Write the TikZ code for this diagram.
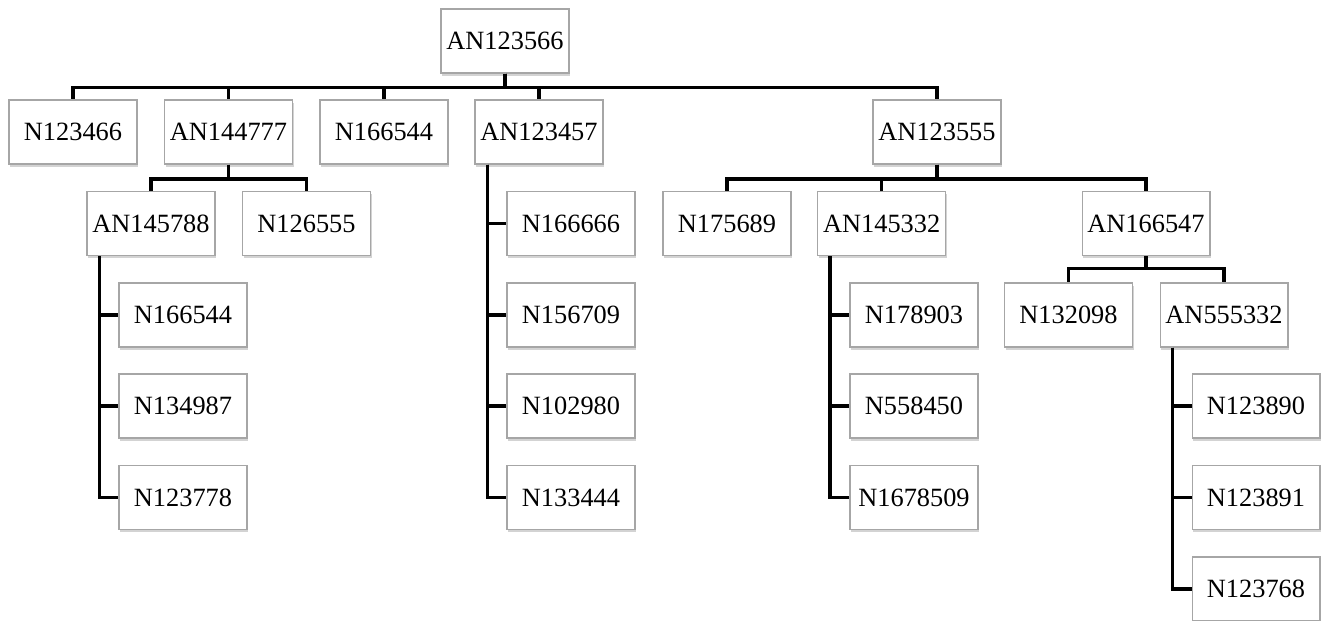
\documentclass[tikz,border=0pt]{standalone}
\usepackage{fontspec}
\setmainfont{Liberation Serif}
\usepackage{tikz}
\usetikzlibrary{shadows}

\begin{document}
\begin{tikzpicture}[x=0.02cm, y=-0.02cm, every node/.style={font=\fontsize{15}{17}\selectfont}, box/.style={draw=gray!70, line width=0.6pt, fill=white, minimum width=2.56cm, minimum height=1.28cm, inner sep=0pt, drop shadow={shadow xshift=0.6pt, shadow yshift=-1.6pt, opacity=0.35, fill=gray}}, conn/.style={line width=2pt}]
\useasboundingbox (0,0) rectangle (1321,620);
\coordinate (busa) at (0,87.3); \coordinate (busb) at (0,179); \coordinate (busc) at (0,268.3);
\node[box] (an123566) at (505,41) {AN123566};
\node[box] (n123466) at (73,132) {N123466};
\node[box] (an144777) at (228.5,132) {AN144777};
\node[box] (n166544) at (384,132) {N166544};
\node[box] (an123457) at (539,132) {AN123457};
\node[box] (an123555) at (937,132) {AN123555};
\node[box] (an145788) at (151,223.5) {AN145788};
\node[box] (n126555) at (306.5,223.5) {N126555};
\node[box] (n166666) at (571,223.5) {N166666};
\node[box] (n175689) at (727,223.5) {N175689};
\node[box] (an145332) at (881.7,223.5) {AN145332};
\node[box] (an166547) at (1146,223.5) {AN166547};
\node[box] (n166544b) at (183,315) {N166544};
\node[box] (n156709) at (571,315) {N156709};
\node[box] (n178903) at (914,315) {N178903};
\node[box] (n132098) at (1068.5,315) {N132098};
\node[box] (an555332) at (1224,315) {AN555332};
\node[box] (n134987) at (183,406) {N134987};
\node[box] (n102980) at (571,406) {N102980};
\node[box] (n558450) at (914,406) {N558450};
\node[box] (n123890) at (1256,406) {N123890};
\node[box] (n123778) at (183,497.5) {N123778};
\node[box] (n133444) at (571,497.5) {N133444};
\node[box] (n1678509) at (914,497.5) {N1678509};
\node[box] (n123891) at (1256,497.5) {N123891};
\node[box] (n123768) at (1256,589) {N123768};
% top level
\draw[conn] (an123566.south) |- (busa -| n123466) -- (n123466.north); \draw[conn] (an123566.south) |- (busa -| an144777) -- (an144777.north); \draw[conn] (an123566.south) |- (busa -| n166544) -- (n166544.north);
\draw[conn] (an123566.south) |- (busa -| an123457) -- (an123457.north); \draw[conn] (an123566.south) |- (busa -| an123555) -- (an123555.north);
% second level
\draw[conn] (an144777.south) |- (busb -| an145788) -- (an145788.north); \draw[conn] (an144777.south) |- (busb -| n126555) -- (n126555.north);
\draw[conn] (an123555.south) |- (busb -| n175689) -- (n175689.north); \draw[conn] (an123555.south) |- (busb -| an145332) -- (an145332.north); \draw[conn] (an123555.south) |- (busb -| an166547) -- (an166547.north);
\draw[conn] (an166547.south) |- (busc -| n132098) -- (n132098.north); \draw[conn] (an166547.south) |- (busc -| an555332) -- (an555332.north);
% side trunks
\draw[conn] ([xshift=0.26cm]an145788.south west) |- (n166544b.west); \draw[conn] ([xshift=0.26cm]an145788.south west) |- (n134987.west); \draw[conn] ([xshift=0.26cm]an145788.south west) |- (n123778.west);
\draw[conn] ([xshift=0.26cm]an123457.south west) |- (n166666.west); \draw[conn] ([xshift=0.26cm]an123457.south west) |- (n156709.west); \draw[conn] ([xshift=0.26cm]an123457.south west) |- (n102980.west); \draw[conn] ([xshift=0.26cm]an123457.south west) |- (n133444.west);
\draw[conn] ([xshift=0.26cm]an145332.south west) |- (n178903.west); \draw[conn] ([xshift=0.26cm]an145332.south west) |- (n558450.west); \draw[conn] ([xshift=0.26cm]an145332.south west) |- (n1678509.west);
\draw[conn] ([xshift=0.26cm]an555332.south west) |- (n123890.west); \draw[conn] ([xshift=0.26cm]an555332.south west) |- (n123891.west); \draw[conn] ([xshift=0.26cm]an555332.south west) |- (n123768.west);
\end{tikzpicture}
\end{document}
